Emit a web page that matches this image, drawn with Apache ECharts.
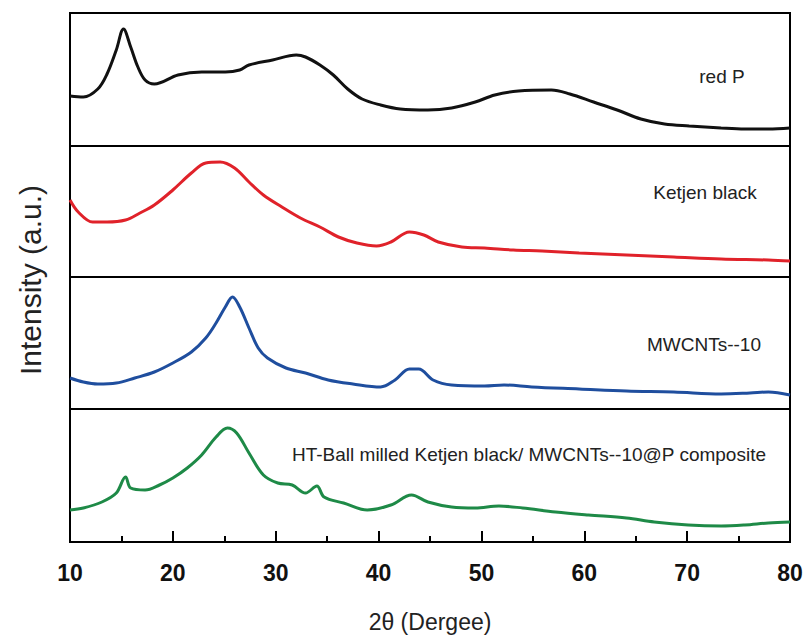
<!DOCTYPE html>
<html>
<head>
<meta charset="utf-8">
<title>XRD patterns</title>
<script src="https://cdn.jsdelivr.net/npm/echarts@6/dist/echarts.min.js"></script>
<style>
  html, body { margin: 0; padding: 0; background: #fff; }
  #main { width: 808px; height: 641px; }
</style>
</head>
<body>
<div id="main"></div>
<script>
// 2theta positions (deg) and intensities (a.u.), one pair of arrays per pattern
var redP_x = [10, 11.3, 12.7, 13.6, 14.5, 15.2, 15.9, 16.6, 17.3, 18.2, 20.5, 22.8, 25.1, 26.5, 27.4, 29.7, 32, 32.9, 34.3, 35.6, 37, 38.4, 40.2, 42.1, 44.8, 47.1, 49.4, 51.3, 53.6, 56.8, 58.6, 60.9, 63.2, 65.5, 67.8, 70.2, 73.3, 75.6, 77.9, 80];
var redP_y = [50, 49, 57, 72, 96, 117, 99, 79, 66, 62, 71, 74, 74, 76, 81, 86, 91, 89, 81, 71, 57, 47, 41, 37, 36, 38, 44, 51, 55, 56, 52, 44, 36, 27, 22, 20, 18, 17, 17, 18];

var ketjen_x = [10, 10.8, 12.2, 13.6, 15.4, 16.8, 18.2, 20, 21.8, 23.2, 24.6, 26, 27.4, 28.8, 30.6, 32.4, 34.3, 36.1, 37.9, 39.8, 41.2, 43, 44.4, 45.8, 48.1, 50.3, 53.1, 55.9, 59.5, 64.1, 68.7, 73.3, 77.9, 80];
var ketjen_y = [77, 65, 55, 55, 57, 64, 72, 87, 104, 114, 115, 109, 95, 82, 70, 59, 50, 40, 34, 31, 35, 45, 42, 35, 30, 29, 27, 26, 24, 22, 20, 18, 17, 16];

var mwcnt_x = [10, 11.3, 12.7, 14.5, 16.3, 18.2, 20, 21.8, 23.2, 24.2, 25.1, 25.8, 26.5, 27.4, 28.3, 29.2, 31, 32.9, 35.1, 37.5, 40.2, 41.6, 43, 43.9, 45.3, 47.1, 50.3, 52.2, 54.9, 59.5, 64.1, 68.7, 73.3, 76.1, 77.9, 80];
var mwcnt_y = [31, 27, 25, 26, 31, 37, 46, 57, 71, 86, 102, 112, 102, 81, 61, 51, 41, 36, 29, 25, 22, 29, 40, 40, 29, 24, 23, 24, 22, 20, 18, 17, 15, 16, 17, 14];

var comp_x = [10, 11.3, 13.1, 14.5, 15.4, 15.9, 17.3, 18.7, 20, 21.4, 22.8, 24.2, 25.3, 26.2, 27.4, 28.8, 30.2, 31.6, 32.9, 34, 34.7, 36.6, 38.9, 41.2, 43.2, 44.8, 47.1, 49.4, 51.7, 54, 57.2, 60.4, 64.1, 66.8, 70.1, 73.3, 75.6, 77.9, 80];
var comp_y = [32, 34, 40, 49, 65, 54, 52, 57, 64, 74, 87, 105, 114, 109, 89, 67, 59, 57, 49, 56, 45, 39, 32, 37, 47, 40, 35, 34, 36, 34, 30, 27, 24, 20, 17, 16, 17, 19, 20];

var sampleNames = ['red P', 'Ketjen black', 'MWCNTs--10', 'HT-Ball milled Ketjen black/ MWCNTs--10@P composite'];
var lineColors = ['#111111', '#e0222a', '#1f4e9e', '#1e8a47'];
var xTicks = [10, 20, 30, 40, 50, 60, 70, 80];

function pairs(xs, ys) {
  return xs.map(function (x, i) { return [x, ys[i]]; });
}

var myChart = echarts.init(document.getElementById('main'), null, { renderer: 'svg' });

var panelTops = [13, 146, 277, 409];
var panelHeights = [133, 131, 132, 133];
var allData = [pairs(redP_x, redP_y), pairs(ketjen_x, ketjen_y), pairs(mwcnt_x, mwcnt_y), pairs(comp_x, comp_y)];

var grids = [], xAxes = [], yAxes = [], series = [];
for (var i = 0; i < 4; i++) {
  var last = i === 3;
  grids.push({
    left: 70, right: 18, top: panelTops[i], height: panelHeights[i],
    show: true, borderColor: '#000', borderWidth: 2, backgroundColor: 'transparent'
  });
  xAxes.push({
    gridIndex: i, type: 'value',
    min: xTicks[0], max: xTicks[xTicks.length - 1], interval: 10,
    show: last,
    name: last ? '2θ (Dergee)' : '',
    nameLocation: 'middle', nameGap: 68,
    nameTextStyle: { fontFamily: 'Liberation Sans', fontSize: 23, color: '#222' },
    axisLine: { onZero: false, lineStyle: { color: '#000', width: 2 } },
    axisTick: { inside: true, length: 11, lineStyle: { color: '#000', width: 2 } },
    minorTick: { show: true, splitNumber: 2, length: 6, lineStyle: { color: '#000', width: 2 } },
    axisLabel: { margin: 19, fontFamily: 'Liberation Sans', fontWeight: 'bold', fontSize: 23, color: '#111' },
    splitLine: { show: false }
  });
  yAxes.push({ gridIndex: i, type: 'value', min: 0, max: panelHeights[i], show: false, splitLine: { show: false } });
  series.push({
    name: sampleNames[i], type: 'line', xAxisIndex: i, yAxisIndex: i,
    data: allData[i], showSymbol: false, smooth: 0.35,
    lineStyle: { color: lineColors[i], width: 3 }
  });
}

var labelPos = [[722, 76], [705, 192], [704, 344], [529, 454]];
var graphics = labelPos.map(function (p, i) {
  return {
    type: 'text', x: p[0], y: p[1],
    style: { text: sampleNames[i], fill: '#222', font: '19px "Liberation Sans", Arial, sans-serif', textAlign: 'center', textVerticalAlign: 'middle' }
  };
});
graphics.push({
  type: 'text', x: 30, y: 280, rotation: Math.PI / 2,
  style: { text: 'Intensity (a.u.)', fill: '#222', font: '30px "Liberation Sans", Arial, sans-serif', textAlign: 'center', textVerticalAlign: 'middle' }
});

var option = {
  animation: false,
  backgroundColor: '#fff',
  grid: grids,
  xAxis: xAxes,
  yAxis: yAxes,
  series: series,
  graphic: graphics
};
myChart.setOption(option);
</script>
</body>
</html>
